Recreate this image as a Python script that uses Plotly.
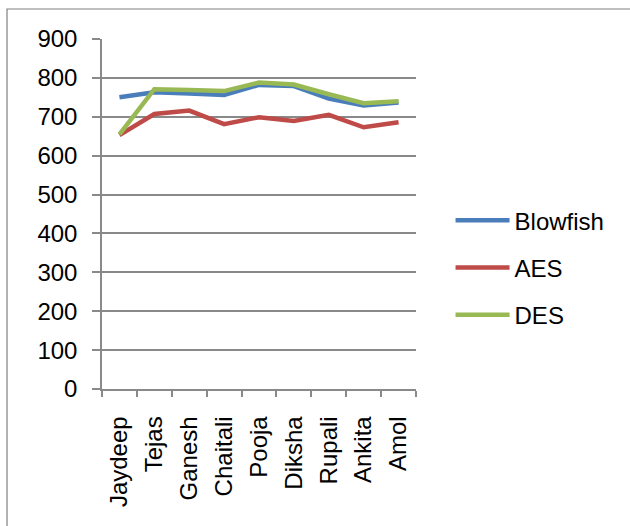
import plotly.graph_objects as go

# Encryption timing per user for three ciphers
users = ["Jaydeep", "Tejas", "Ganesh", "Chaitali", "Pooja",
         "Diksha", "Rupali", "Ankita", "Amol"]
blowfish = [750, 763, 760, 756, 782, 779, 747, 729, 737]
aes = [653, 707, 716, 681, 699, 689, 705, 673, 686]
des = [655, 771, 769, 766, 788, 783, 758, 735, 740]

y_ticks = [0, 100, 200, 300, 400, 500, 600, 700, 800, 900]

series = [
    ("Blowfish", blowfish, "#4A7EBB"),
    ("AES", aes, "#BE4B48"),
    ("DES", des, "#98B954"),
]

FONT = "Liberation Sans"
GRID = "#898989"

fig = go.Figure()
for name, vals, color in series:
    fig.add_trace(go.Scatter(
        x=users, y=vals, name=name, mode="lines",
        legendgroup=name,
        line=dict(color=color, width=4.5),
    ))

fig.update_layout(
    width=630, height=526,
    margin=dict(l=102, r=214, t=39, b=137),
    paper_bgcolor="white", plot_bgcolor="white",
    font=dict(family=FONT, size=24, color="black"),
    showlegend=True,
    legend=dict(
        x=1.11, xanchor="left", y=0.545, yanchor="top",
        traceorder="grouped", tracegroupgap=13,
        itemwidth=54, font=dict(size=24, family=FONT),
        bgcolor="rgba(0,0,0,0)",
    ),
    xaxis=dict(
        type="category", range=[-0.5, len(users) - 0.5],
        showgrid=False, zeroline=False,
        showline=True, linecolor=GRID, linewidth=1.5,
        ticks="outside", ticklen=6, tickcolor=GRID, tickwidth=1.5,
        tickson="boundaries", tickangle=-90, ticklabelstandoff=16,
        tickfont=dict(size=24, family=FONT),
    ),
    yaxis=dict(
        range=[0, 900], tickvals=y_ticks,
        showgrid=True, gridcolor=GRID, gridwidth=1.5, zeroline=False,
        showline=True, linecolor=GRID, linewidth=1.5,
        ticks="outside", ticklen=8, tickcolor=GRID, tickwidth=1.5,
        ticklabelstandoff=10,
        tickfont=dict(size=24, family=FONT),
    ),
    shapes=[dict(
        type="rect", xref="paper", yref="paper",
        x0=-0.3025, x1=1.9, y0=-0.5, y1=1.0857,
        line=dict(color="#808080", width=1.2), layer="below",
    )],
)

fig.write_html("out.html")
